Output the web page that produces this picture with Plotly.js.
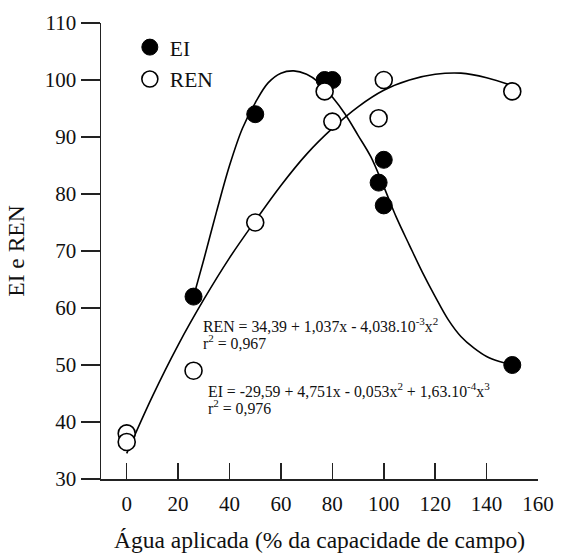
<!DOCTYPE html>
<html>
<head>
<meta charset="utf-8">
<script src="https://cdn.plot.ly/plotly-3.0.1.min.js"></script>
<style>html,body{margin:0;padding:0;background:#fff;}#chart{width:566px;height:558px;}</style>
</head>
<body>
<div id="chart"></div>
<script>
const eiX = [26, 50, 77, 80, 98, 100, 100, 150];
const eiY = [62, 94, 100, 100, 82, 86, 78, 50];
const renX = [0, 0, 26, 50, 77, 80, 98, 100, 150];
const renY = [38, 36.5, 49, 75, 98, 92.7, 93.3, 100, 98];

// Fitted curves as drawn in the picture
const eiFitX = [26, 30, 35, 40, 45, 50, 55, 60, 65, 70, 75, 80, 85, 90, 95, 100, 105, 110, 115, 120, 125, 130, 135, 140, 145, 150];
const eiFitY = [62, 68.5, 77, 85, 91.5, 96, 99.5, 101.2, 101.6, 101, 99.5, 97, 94, 90.3, 86.5, 81.3, 75.8, 71, 66.3, 62, 58, 55, 53, 51.5, 50.6, 50];
const renFitX = [0, 10, 20, 30, 40, 50, 60, 70, 80, 90, 100, 110, 120, 130, 140, 150];
const renFitY = [34.5, 44.5, 53.5, 61.5, 68.8, 75.3, 81.5, 87, 91.5, 95.3, 98.2, 100, 101, 101.2, 100.4, 99];

const xTicks = [0, 20, 40, 60, 80, 100, 120, 140, 160];
const yTicks = [30, 40, 50, 60, 70, 80, 90, 100, 110];

const serif = "Liberation Serif, Times New Roman, serif";

const traces = [
  {x: renFitX, y: renFitY, mode: 'lines', line: {color: '#000', width: 1.6, shape: 'spline', smoothing: 1}, showlegend: false, hoverinfo: 'skip'},
  {x: eiFitX, y: eiFitY, mode: 'lines', line: {color: '#000', width: 1.6, shape: 'spline', smoothing: 1}, showlegend: false, hoverinfo: 'skip'},
  {x: eiX, y: eiY, mode: 'markers', name: 'EI', legendgroup: 'a',
   marker: {symbol: 'circle', size: 17, color: '#000', line: {color: '#000', width: 1}}},
  {x: renX, y: renY, mode: 'markers', name: 'REN', legendgroup: 'b',
   marker: {symbol: 'circle', size: 17, color: '#fff', line: {color: '#000', width: 1.6}}}
];

const annFont = {family: serif, size: 15.8, color: '#111'};
const layout = {
  width: 566, height: 558,
  margin: {l: 101, r: 28, t: 23, b: 79},
  paper_bgcolor: '#fff', plot_bgcolor: '#fff',
  font: {family: serif, color: '#111'},
  showlegend: true,
  legend: {x: 0.066, y: 0.992, xanchor: 'left', yanchor: 'top', bgcolor: 'rgba(0,0,0,0)',
           font: {family: serif, size: 21.5, color: '#111'}, traceorder: 'grouped', tracegroupgap: 1},
  xaxis: {range: [-10, 160], tickvals: xTicks, ticktext: xTicks.map(String),
          ticks: 'inside', ticklen: 16, tickwidth: 1.5, tickcolor: '#222',
          showline: true, linecolor: '#222', linewidth: 1.5, showgrid: false, zeroline: false,
          ticklabelstandoff: 5,
          tickfont: {family: serif, size: 21, color: '#111'},
          title: {text: 'Água aplicada (% da capacidade de campo)', font: {family: serif, size: 23.5, color: '#111'}, standoff: 17}},
  yaxis: {range: [30, 110], tickvals: yTicks, ticktext: yTicks.map(String),
          ticks: 'outside', ticklen: 19, tickwidth: 1.5, tickcolor: '#222',
          showline: true, linecolor: '#222', linewidth: 1.5, showgrid: false, zeroline: false,
          tickfont: {family: serif, size: 21, color: '#111'},
          title: {text: 'EI e REN', font: {family: serif, size: 23.5, color: '#111'}, standoff: 13}},
  annotations: [
    {x: 29.0, y: 57.0, xref: 'x', yref: 'y', xanchor: 'left', yanchor: 'middle', showarrow: false, font: annFont,
     text: 'REN = 34,39 + 1,037x - 4,038.10<sup>-3</sup>x<sup>2</sup>'},
    {x: 29.0, y: 54.0, xref: 'x', yref: 'y', xanchor: 'left', yanchor: 'middle', showarrow: false, font: annFont,
     text: 'r<sup>2</sup> = 0,967'},
    {x: 30.9, y: 45.7, xref: 'x', yref: 'y', xanchor: 'left', yanchor: 'middle', showarrow: false, font: annFont,
     text: 'EI = -29,59 + 4,751x - 0,053x<sup>2</sup> + 1,63.10<sup>-4</sup>x<sup>3</sup>'},
    {x: 30.9, y: 42.6, xref: 'x', yref: 'y', xanchor: 'left', yanchor: 'middle', showarrow: false, font: annFont,
     text: 'r<sup>2</sup> = 0,976'}
  ]
};

Plotly.newPlot('chart', traces, layout, {displayModeBar: false, staticPlot: true});
</script>
</body>
</html>
